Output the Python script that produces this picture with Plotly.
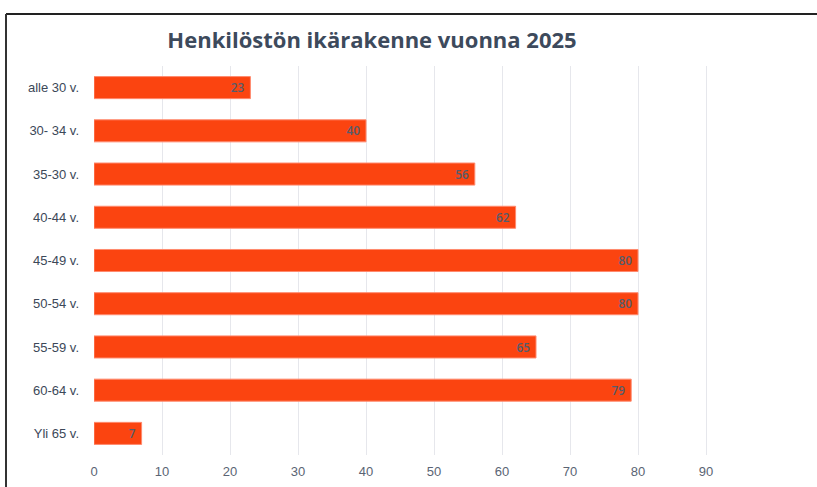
import plotly.graph_objects as go

categories = ["alle 30 v.", "30- 34 v.", "35-30 v.", "40-44 v.", "45-49 v.",
              "50-54 v.", "55-59 v.", "60-64 v.", "Yli 65 v."]
values = [23, 40, 56, 62, 80, 80, 65, 79, 7]
x_ticks = [0, 10, 20, 30, 40, 50, 60, 70, 80, 90]

W, H = 817, 487
L, R, T, B = 94, 740, 66, 455

fig = go.Figure(go.Bar(
    x=values, y=categories, orientation="h",
    marker=dict(color="#fb4410", line=dict(color="#ff8a6e", width=1)),
    text=[str(v) + "\u00a0" for v in values], textposition="inside",
    insidetextanchor="end", textangle=0,
    textfont=dict(family="Open Sans", size=14, color="#565c6a", weight=600),
    width=0.51,
))

fig.update_layout(
    width=W, height=H,
    margin=dict(l=L, r=W - R, t=T, b=H - B, pad=0),
    paper_bgcolor="white", plot_bgcolor="white",
    showlegend=False,
    title=dict(text="<b>Henkilöstön ikärakenne vuonna 2025</b>",
               x=372 / W, xanchor="center", xref="container",
               y=1 - 40 / H, yanchor="middle", yref="container",
               font=dict(family="Open Sans", size=22, color="#3d4a5c")),
    xaxis=dict(range=[0, 95], tickvals=x_ticks, showgrid=True,
               gridcolor="#e6e7ec", gridwidth=1, zeroline=False,
               showline=False, ticks="", ticklabelstandoff=7, automargin=False,
               tickfont=dict(family="Liberation Sans", size=13, color="#5a6474")),
    yaxis=dict(autorange="reversed", showgrid=False, zeroline=False,
               showline=False, ticks="", ticklabelstandoff=14, automargin=False,
               tickfont=dict(family="Liberation Sans", size=13, color="#3c4858")),
    shapes=[
        dict(type="line", xref="paper", yref="paper",
             x0=(6 - L) / (R - L), x1=(W + 5 - L) / (R - L),
             y0=(H - 14 - (H - B)) / (B - T), y1=(H - 14 - (H - B)) / (B - T),
             line=dict(color="#222222", width=2)),
        dict(type="line", xref="paper", yref="paper",
             x0=(6 - L) / (R - L), x1=(6 - L) / (R - L),
             y0=(H - 14 - (H - B)) / (B - T), y1=-(H - B + 5) / (B - T),
             line=dict(color="#333333", width=2)),
    ],
)

fig.write_html("out.html", config={"displayModeBar": False},
               post_script="document.body.style.margin='0px';document.body.style.overflow='hidden';")
